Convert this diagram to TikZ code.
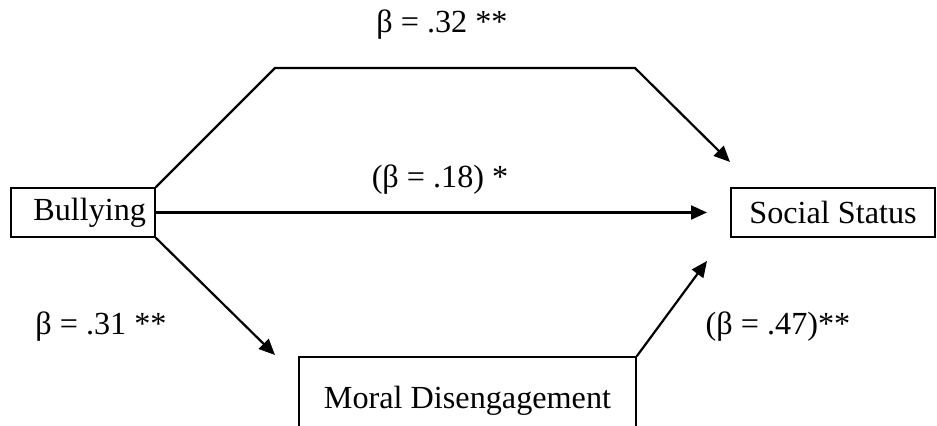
\documentclass[tikz,border=0pt]{standalone}
\usepackage{fontspec}
\setmainfont{Liberation Serif}
\usetikzlibrary{arrows.meta,positioning}
\tikzset{
  varbox/.style={draw,line width=0.8pt,inner sep=0pt,minimum height=24.5pt},
  path/.style={line width=1.1pt,-{Triangle[length=8pt,width=7pt]}},
  coef/.style={inner sep=0pt}
}
\begin{document}
\begin{tikzpicture}[x=0.5pt,y=0.5pt,font=\fontsize{16.1}{19}\selectfont]
		\useasboundingbox (0,0) rectangle (937,426);
		\node[varbox,minimum width=72pt,text width=63pt,align=right,inner xsep=4.5pt] (bully) at (83,213.5) {Bullying};
		\node[varbox,minimum width=102pt] (status) at (833,213.5) {Social Status};
		\node[varbox,minimum width=168.5pt,minimum height=44pt] (moral) at (467.5,25) {Moral Disengagement};
		\coordinate (upL) at (275,358);
		\coordinate (upR) at (635,358);
		\coordinate (upEnd) at (730,264);
		\coordinate (midEnd) at (707,213.5);
		\coordinate (lowEnd) at (275,71);
		\coordinate (rightEnd) at (707,165);
		\draw[path,line join=miter] (bully.north east) -- (upL) -- (upR) -- (upEnd);
		\draw[path] (bully.east) -- (midEnd);
		\draw[path] (bully.south east) -- (lowEnd);
		\draw[path] (moral.north east) -- (rightEnd);
		\node[coef] (c1) at (442,401) {β = .32 **};
		\node[coef] (c2) at (440,246) {(β = .18) *};
		\node[coef] (c3) at (101,99) {β = .31 **};
		\node[coef] (c4) at (778,99) {(β = .47)**};
	\end{tikzpicture}
\end{document}
